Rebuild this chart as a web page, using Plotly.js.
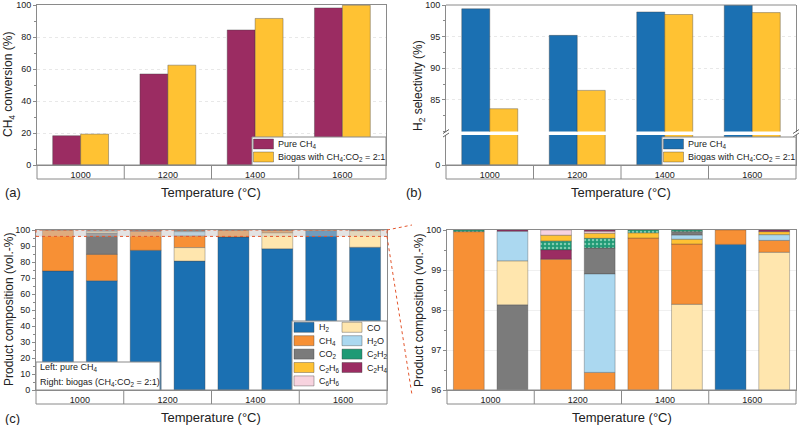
<!DOCTYPE html>
<html><head><meta charset="utf-8">
<script src="https://cdn.plot.ly/plotly-3.0.1.min.js"></script>
<style>html,body{margin:0;padding:0;background:#fff}#chart{width:801px;height:425px}</style>
</head><body><div id="chart"></div>
<script>
// ---------------- data ----------------
const temps = ['1000', '1200', '1400', '1600'];
const seriesNames = ['Pure CH<sub>4</sub>', 'Biogas with CH<sub>4</sub>:CO<sub>2</sub> = 2:1'];
// (a) CH4 conversion (%)
const ch4ConvPure = [18.3, 56.9, 84.4, 98.2];
const ch4ConvBiogas = [19.3, 62.4, 91.6, 99.8];
// (b) H2 selectivity (%)
const h2SelPure = [99.4, 95.2, 98.9, 100.0];
const h2SelBiogas = [83.6, 86.5, 98.5, 98.8];
// (c)/(d) product composition (vol.-%), species order as in legend (column-wise)
const species = ['H2', 'CH4', 'CO2', 'C2H6', 'C6H6', 'CO', 'H2O', 'C2H2', 'C2H4'];
const speciesLabels = ['H<sub>2</sub>', 'CH<sub>4</sub>', 'CO<sub>2</sub>', 'C<sub>2</sub>H<sub>6</sub>', 'C<sub>6</sub>H<sub>6</sub>',
  'CO', 'H<sub>2</sub>O', 'C<sub>2</sub>H<sub>2</sub>', 'C<sub>2</sub>H<sub>4</sub>'];
// pure CH4 feed
const pureH2 = [74.4, 87.3, 95.6, 99.64];
const pureCH4 = [25.56, 11.97, 4.2, 0.36];
const pureCO2 = [0, 0, 0, 0];
const pureC2H6 = [0, 0.15, 0.13, 0];
const pureC6H6 = [0, 0.13, 0, 0];
const pureCO = [0, 0, 0, 0];
const pureH2O = [0, 0, 0, 0];
const pureC2H2 = [0.04, 0.22, 0.07, 0];
const pureC2H4 = [0, 0.23, 0, 0];
// biogas feed
const bioH2 = [68.3, 80.6, 88.3, 89.2];
const bioCH4 = [16.5, 7.44, 1.51, 0.3];
const bioCO2 = [13.33, 0.65, 0.09, 0];
const bioC2H6 = [0, 0.13, 0.12, 0.08];
const bioC6H6 = [0, 0.05, 0, 0];
const bioCO = [1.1, 8.4, 9.84, 10.24];
const bioH2O = [0.74, 2.46, 0.1, 0.14];
const bioC2H2 = [0, 0.24, 0.04, 0];
const bioC2H4 = [0.03, 0.03, 0, 0.04];

const pureVals = [pureH2, pureCH4, pureCO2, pureC2H6, pureC6H6, pureCO, pureH2O, pureC2H2, pureC2H4];
const bioVals = [bioH2, bioCH4, bioCO2, bioC2H6, bioC6H6, bioCO, bioH2O, bioC2H2, bioC2H4];

// ---------------- styles ----------------
const W = 801, H = 425;
const px = x => x / W, py = y => 1 - y / H;
const FONT = 'Liberation Sans, Arial, sans-serif';
const FRAME = '#8a8a8a';
const EDGE = 'rgba(60,60,60,0.55)';
const C_PURE = '#9B2C62', C_BIO = '#FFC233', C_BLUE = '#1B70B2';
const spColors = {H2: '#1B70B2', CH4: '#F79035', CO2: '#7B7B7B', C2H6: '#FFC233', C6H6: '#F7D3DF',
  CO: '#FFE6AE', H2O: '#ABD8F0', C2H2: '#1F9A75', C2H4: '#9B2C62'};

// stack each bar from largest to smallest component
function stackBases(vals) {
  const n = vals[0].length;
  const bases = vals.map(() => new Array(n).fill(0));
  for (let j = 0; j < n; j++) {
    const order = vals.map((v, i) => i).sort((a, b) => (vals[b][j] - vals[a][j]) || (a - b));
    let acc = 0;
    order.forEach(i => { bases[i][j] = acc; acc += vals[i][j]; });
  }
  return bases;
}
const pureBase = stackBases(pureVals);
const bioBase = stackBases(bioVals);

const traces = [];
function pairBars(xa, ya, yA, yB, colA, colB) {
  traces.push({type: 'bar', x: temps, y: yA, xaxis: xa, yaxis: ya, width: 0.32, offset: -0.32,
    marker: {color: colA, line: {color: EDGE, width: 0.7}}, name: seriesNames[0], hoverinfo: 'skip'});
  traces.push({type: 'bar', x: temps, y: yB, xaxis: xa, yaxis: ya, width: 0.32, offset: 0,
    marker: {color: colB, line: {color: EDGE, width: 0.7}}, name: seriesNames[1], hoverinfo: 'skip'});
}
pairBars('x', 'y', ch4ConvPure, ch4ConvBiogas, C_PURE, C_BIO);
pairBars('x2', 'y2', h2SelPure, h2SelBiogas, C_BLUE, C_BIO);
pairBars('x2', 'y3', h2SelPure, h2SelBiogas, C_BLUE, C_BIO);

function compBars(xa, ya) {
  [[pureVals, pureBase, -0.4265], [bioVals, bioBase, 0.0735]].forEach(([vals, bases, off]) => {
    species.forEach((s, i) => {
      const marker = {color: spColors[s], line: {color: EDGE, width: 0.6}};
      if (s === 'C2H2') marker.pattern = {shape: '.', bgcolor: spColors[s], fgcolor: '#7fcdb0', size: 4, solidity: 0.3};
      traces.push({type: 'bar', x: temps, y: vals[i].map(v => v > 0 ? v : null), base: bases[i],
        xaxis: xa, yaxis: ya, width: 0.353, offset: off, name: speciesLabels[i], hoverinfo: 'skip', marker});
    });
  });
}
compBars('x3', 'y4');
compBars('x4', 'y5');

// ---------------- axes ----------------
const tickfont = {size: 9, color: '#222', family: FONT};
function xAx(l, r, anchor, mirror) {
  return {domain: [px(l), px(r)], anchor, type: 'category', range: [-0.5, 3.5], showline: true,
    linecolor: FRAME, linewidth: 1, mirror, ticks: '', showgrid: false, zeroline: false, tickfont,
    ticklabelstandoff: 1, fixedrange: true};
}
function yAx(top, bot, anchor, range, extra) {
  return Object.assign({domain: [py(bot), py(top)], anchor, range, showline: true, linecolor: FRAME,
    linewidth: 1, mirror: true, ticks: 'outside', ticklen: 3, tickcolor: FRAME, tickfont,
    showgrid: true, gridcolor: '#e8e8e8', zeroline: false, fixedrange: true}, extra);
}
const PA = {l: 37, r: 386, t: 5, b: 165};
const PB = {l: 446, r: 796, t: 5, tb: 131.5, bt: 135, b: 165};
const PC = {l: 36, r: 387, t: 230, b: 390};
const PD = {l: 447, r: 796, t: 230, b: 390};

const layout = {
  width: W, height: H, margin: {l: 0, r: 0, t: 0, b: 0}, paper_bgcolor: '#fff', plot_bgcolor: 'rgba(0,0,0,0)',
  showlegend: false, barmode: 'overlay', font: {family: FONT, color: '#222', size: 9},
  xaxis: xAx(PA.l, PA.r, 'y', true),
  yaxis: yAx(PA.t, PA.b, 'x', [0, 100], {dtick: 20, griddash: 'dot',
    minor: {ticks: 'outside', ticklen: 2, tickcolor: FRAME, dtick: 10, showgrid: false}}),
  xaxis2: xAx(PB.l, PB.r, 'y3', false),
  yaxis2: yAx(PB.t, PB.tb, 'x2', [80, 100], {tickvals: [85, 90, 95, 100], griddash: 'dot',
    minor: {ticks: 'outside', ticklen: 2, tickcolor: FRAME, dtick: 2.5, showgrid: false}}),
  yaxis3: yAx(PB.bt, PB.b, 'x2', [0, 10], {tickvals: [0], showgrid: false}),
  xaxis3: xAx(PC.l, PC.r, 'y4', true),
  yaxis4: yAx(PC.t, PC.b, 'x3', [0, 100], {dtick: 10, showgrid: false,
    minor: {ticks: 'outside', ticklen: 2, tickcolor: FRAME, dtick: 5, showgrid: false}}),
  xaxis4: xAx(PD.l, PD.r, 'y5', true),
  yaxis5: yAx(PD.t, PD.b, 'x4', [96, 100], {dtick: 1, gridcolor: '#f0f0f0',
    minor: {ticks: 'outside', ticklen: 2, tickcolor: FRAME, dtick: 0.5, showgrid: false}}),
  shapes: [], annotations: []
};
const shapes = layout.shapes, anns = layout.annotations;

function line(x0, y0, x1, y1, color, width, dash) {
  shapes.push({type: 'line', xref: 'paper', yref: 'paper', x0: px(x0), y0: py(y0), x1: px(x1), y1: py(y1),
    line: {color: color || FRAME, width: width || 1, dash: dash || 'solid'}});
}
function rect(x0, y0, x1, y1, fill, lc, lw) {
  shapes.push({type: 'rect', xref: 'paper', yref: 'paper', x0: px(x0), y0: py(y0), x1: px(x1), y1: py(y1),
    fillcolor: fill || 'rgba(0,0,0,0)', line: {color: lc || FRAME, width: lw === undefined ? 1 : lw}});
}
function text(x, y, t, opts) {
  anns.push(Object.assign({xref: 'paper', yref: 'paper', x: px(x), y: py(y), text: t, showarrow: false,
    xanchor: 'center', yanchor: 'middle', font: {family: FONT, size: 9, color: '#222'}}, opts || {}));
}

// category rows under each panel
function catBox(P, xa) {
  rect(P.l, P.b, P.r, P.b + 14, null, FRAME, 1);
  for (let i = 0; i < temps.length - 1; i++) {
    shapes.push({type: 'line', xref: xa, yref: 'paper', x0: i + 0.5, x1: i + 0.5, y0: py(P.b), y1: py(P.b + 14),
      line: {color: FRAME, width: 1}});
  }
}
catBox(PA, 'x'); catBox(PB, 'x2'); catBox(PC, 'x3'); catBox(PD, 'x4');

// panel (b) top frame and axis break marks
line(PB.l, PB.t, PB.r, PB.t);
[PB.l, PB.r].forEach(x => {
  line(x - 3, PB.tb + 2, x + 3, PB.tb - 2, '#666', 1);
  line(x - 3, PB.bt + 2, x + 3, PB.bt - 2, '#666', 1);
});

// series legends (a) and (b)
function pairLegend(P, colA) {
  const L = P.r - 134;
  rect(L, 137, P.r, 165, '#fff', FRAME, 1);
  rect(L + 1.5, 139, L + 21.5, 149, colA, EDGE, 0.7);
  rect(L + 1.5, 152, L + 21.5, 162, C_BIO, EDGE, 0.7);
  text(L + 24, 144, seriesNames[0], {xanchor: 'left'});
  text(L + 24, 157, seriesNames[1], {xanchor: 'left'});
}
pairLegend(PA, C_PURE);
pairLegend(PB, C_BLUE);

// zoom box in (c) and connectors to (d)
const yc = v => PC.b - (PC.b - PC.t) * v / 100;
shapes.push({type: 'rect', xref: 'x3 domain', yref: 'y4', x0: 0, x1: 1, y0: 96, y1: 100,
  fillcolor: 'rgba(200,200,200,0.5)', line: {color: '#E4572E', width: 1, dash: 'dot'}});
line(PC.r, yc(100), PD.l - 35, PD.t - 5, '#E4572E', 1, 'dot');
line(PC.r, yc(96), PD.l - 35, PD.b + 5, '#E4572E', 1, 'dot');

// species legend (c)
rect(292, 321, PC.r, PC.b, '#fff', FRAME, 1);
species.forEach((s, i) => {
  const col = i < 5 ? 0 : 1, row = i < 5 ? i : i - 5;
  const x0 = col === 0 ? 294 : 342, yMid = 327.3 + row * 13.4;
  rect(x0, yMid - 5, x0 + 20, yMid + 5, spColors[s], EDGE, 0.7);
  text(x0 + 23, yMid + 0.5, speciesLabels[i], {xanchor: 'left'});
});
// note box (c)
rect(PC.l, 362, 160, PC.b, '#fff', FRAME, 1);
text(38, 367.5, 'Left: pure CH<sub>4</sub>', {xanchor: 'left'});
text(38, 382, 'Right: biogas (CH<sub>4</sub>:CO<sub>2</sub> = 2:1)', {xanchor: 'left'});

// axis titles and panel labels
const tf = {family: FONT, size: 12, color: '#222'};
text(9, (PA.t + PA.b) / 2, 'CH<sub>4</sub> conversion (%)', {textangle: -90, font: tf});
text(419, (PB.t + PB.b) / 2, 'H<sub>2</sub> selectivity (%)', {textangle: -90, font: tf});
text(9, (PC.t + PC.b) / 2, 'Product composition (vol.-%)', {textangle: -90, font: tf});
text(419, (PD.t + PD.b) / 2, 'Product composition (vol.-%)', {textangle: -90, font: tf});
const xf = {family: FONT, size: 13, color: '#222'};
text((PA.l + PA.r) / 2, 192, 'Temperature (°C)', {font: xf});
text((PB.l + PB.r) / 2, 192, 'Temperature (°C)', {font: xf});
text((PC.l + PC.r) / 2, 417, 'Temperature (°C)', {font: xf});
text((PD.l + PD.r) / 2, 417, 'Temperature (°C)', {font: xf});
text(3, 192, '(a)', {xanchor: 'left', font: xf});
text(404, 192, '(b)', {xanchor: 'left', font: xf});
text(3, 418, '(c)', {xanchor: 'left', font: xf});

Plotly.newPlot('chart', traces, layout, {staticPlot: true, displayModeBar: false});
</script></body></html>
